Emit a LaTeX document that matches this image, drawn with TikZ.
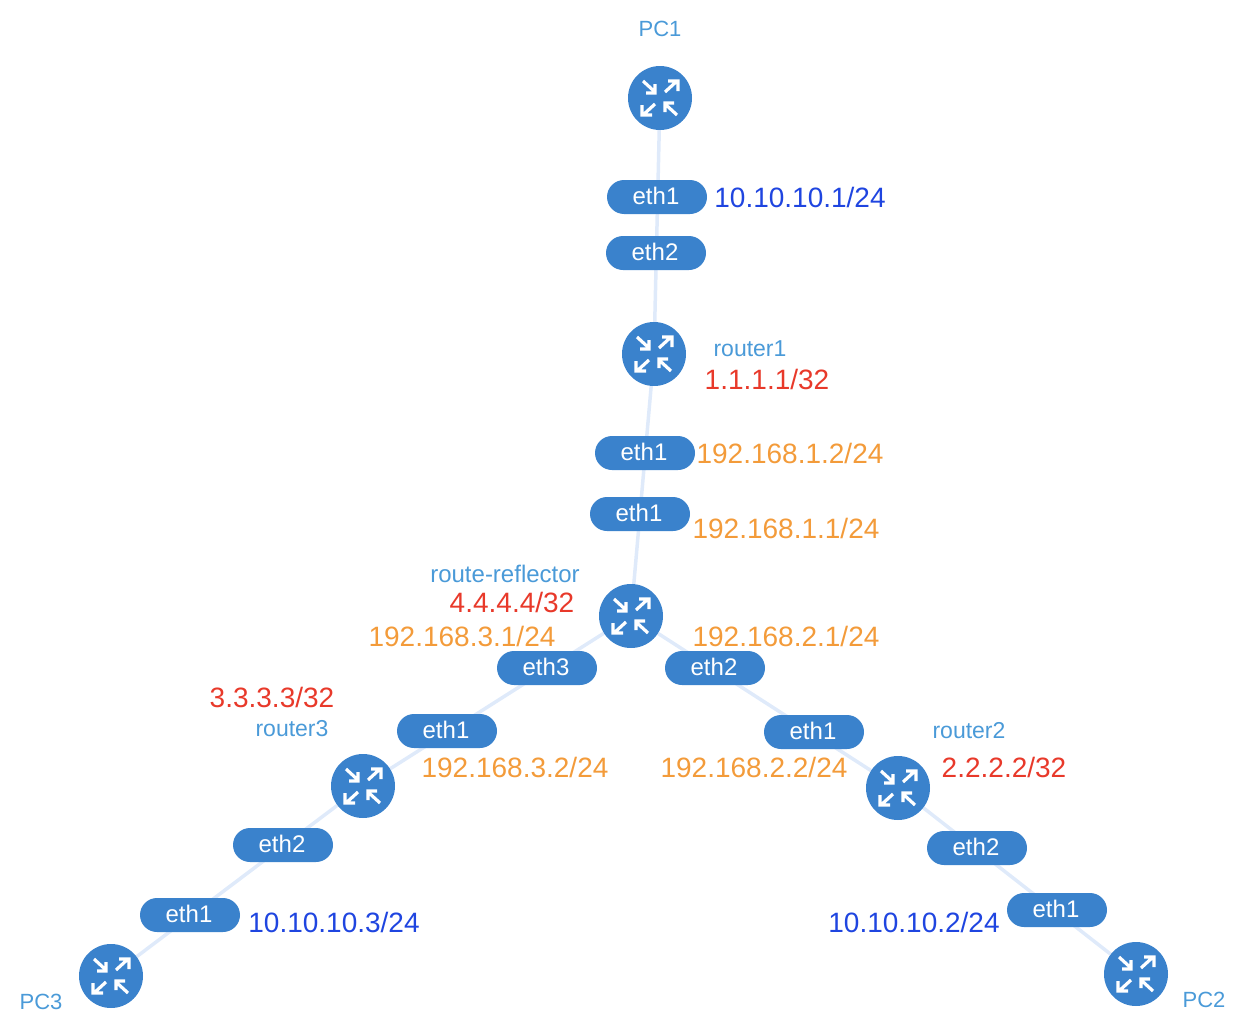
\documentclass[tikz,border=0pt]{standalone}
\usepackage{fontspec}
\setmainfont{Liberation Sans}
\usetikzlibrary{backgrounds,shapes.misc}
\definecolor{nodeblue}{HTML}{3A82CC}
\definecolor{linkblue}{HTML}{DFEAFA}
\definecolor{namecol}{HTML}{4A9AD8}
\definecolor{pccol}{HTML}{1F45E0}
\definecolor{transit}{HTML}{F39B3A}
\definecolor{loopcol}{HTML}{E8392A}
\tikzset{%
    device/.style={%
        circle, fill=nodeblue, minimum size=64pt, inner sep=0pt
    },
    port/.style={%
        rounded rectangle, fill=nodeblue, text=white, minimum width=100pt, minimum height=34pt, inner sep=0pt, text height=17pt, text depth=2pt, execute at end node=\hspace{2pt}, font=\fontsize{24}{24}\selectfont
    },
    link/.style={%
        draw=linkblue, line width=3.5pt
    },
    addr/.style={%
        inner sep=0pt, text height=20pt, text depth=0pt, font=\fontsize{28}{28}\selectfont
    },
    devname/.style={%
        inner sep=0pt, text=namecol, text height=17pt, text depth=0pt, font=\fontsize{23}{23}\selectfont
    },
    pcaddr/.style={addr, text=pccol},
    transitaddr/.style={addr, text=transit},
    loopaddr/.style={addr, text=loopcol},
    arrowpair/.pic={%
        \draw[white, line width=3.2pt] (5,-6) -- (17,-17) (8,-17) -- (18,-17) -- (18,-7);
        \draw[white, line width=3.2pt] (-17,-17) -- (-5,-6) (-5,-14) -- (-5,-5) -- (-14,-5);
    },
}
\begin{document}
\begin{tikzpicture}[x=1pt,y=-1pt]
      \useasboundingbox (0,0) rectangle (1248,1036);
      % devices
      \node[device] (pc1) at (660,98) {};
      \node[device] (router1) at (654,354) {};
      \node[device] (reflector) at (631,616) {};
      \node[device] (router3) at (363,786) {};
      \node[device] (router2) at (898,788) {};
      \node[device] (pc3) at (111,976) {};
      \node[device] (pc2) at (1136,974) {};
      \foreach \dev in {pc1,router1,reflector,router3,router2,pc3,pc2} {
        \pic at (\dev) {arrowpair};
        \pic[rotate=180] at (\dev) {arrowpair};
      }
      % links
      \begin{pgfonlayer}{background}
        \draw[link] (pc1) -- (router1);
        \draw[link] (router1) -- (reflector);
        \draw[link] (reflector) -- (router3);
        \draw[link] (reflector) -- (router2);
        \draw[link] (router3) -- (pc3);
        \draw[link] (router2) -- (pc2);
      \end{pgfonlayer}
      % ports
      \node[port] (pc1eth1) at (657,197) {eth1};
      \node[port] (r1eth2) at (656,253) {eth2};
      \node[port] (r1eth1) at (645,453) {eth1};
      \node[port] (rreth1) at (640,514) {eth1};
      \node[port] (rreth3) at (547,668) {eth3};
      \node[port] (rreth2) at (715,668) {eth2};
      \node[port] (r3eth1) at (447,731) {eth1};
      \node[port] (r2eth1) at (814,732) {eth1};
      \node[port] (r3eth2) at (283,845) {eth2};
      \node[port] (r2eth2) at (977,848) {eth2};
      \node[port] (pc3eth1) at (190,915) {eth1};
      \node[port] (pc2eth1) at (1057,910) {eth1};
      % names
      \node[devname, font=\fontsize{22}{22}\selectfont] (pc1name) at (660,28) {PC1};
      \node[devname] (r1name) at (750,348) {router1};
      \node[devname, font=\fontsize{24}{24}\selectfont] (rrname) at (505,574) {route-reflector};
      \node[devname] (r3name) at (292,728) {router3};
      \node[devname] (r2name) at (969,730) {router2};
      \node[devname, font=\fontsize{22}{22}\selectfont] (pc3name) at (41,1001) {PC3};
      \node[devname, font=\fontsize{22}{22}\selectfont] (pc2name) at (1204,999) {PC2};
      % addresses
      \node[pcaddr] (pc1addr) at (800,197) {10.10.10.1/24};
      \node[pcaddr] (pc3addr) at (334,922) {10.10.10.3/24};
      \node[pcaddr] (pc2addr) at (914,922) {10.10.10.2/24};
      \node[loopaddr] (r1loop) at (767,379) {1.1.1.1/32};
      \node[loopaddr] (rrloop) at (512,602) {4.4.4.4/32};
      \node[loopaddr] (r3loop) at (272,697) {3.3.3.3/32};
      \node[loopaddr] (r2loop) at (1004,767) {2.2.2.2/32};
      \node[transitaddr] (r1addr) at (790,453) {192.168.1.2/24};
      \node[transitaddr] (rraddr1) at (786,528) {192.168.1.1/24};
      \node[transitaddr] (rraddr3) at (462,636) {192.168.3.1/24};
      \node[transitaddr] (rraddr2) at (786,636) {192.168.2.1/24};
      \node[transitaddr] (r3addr) at (515,767) {192.168.3.2/24};
      \node[transitaddr] (r2addr) at (754,767) {192.168.2.2/24};
\end{tikzpicture}
\end{document}
